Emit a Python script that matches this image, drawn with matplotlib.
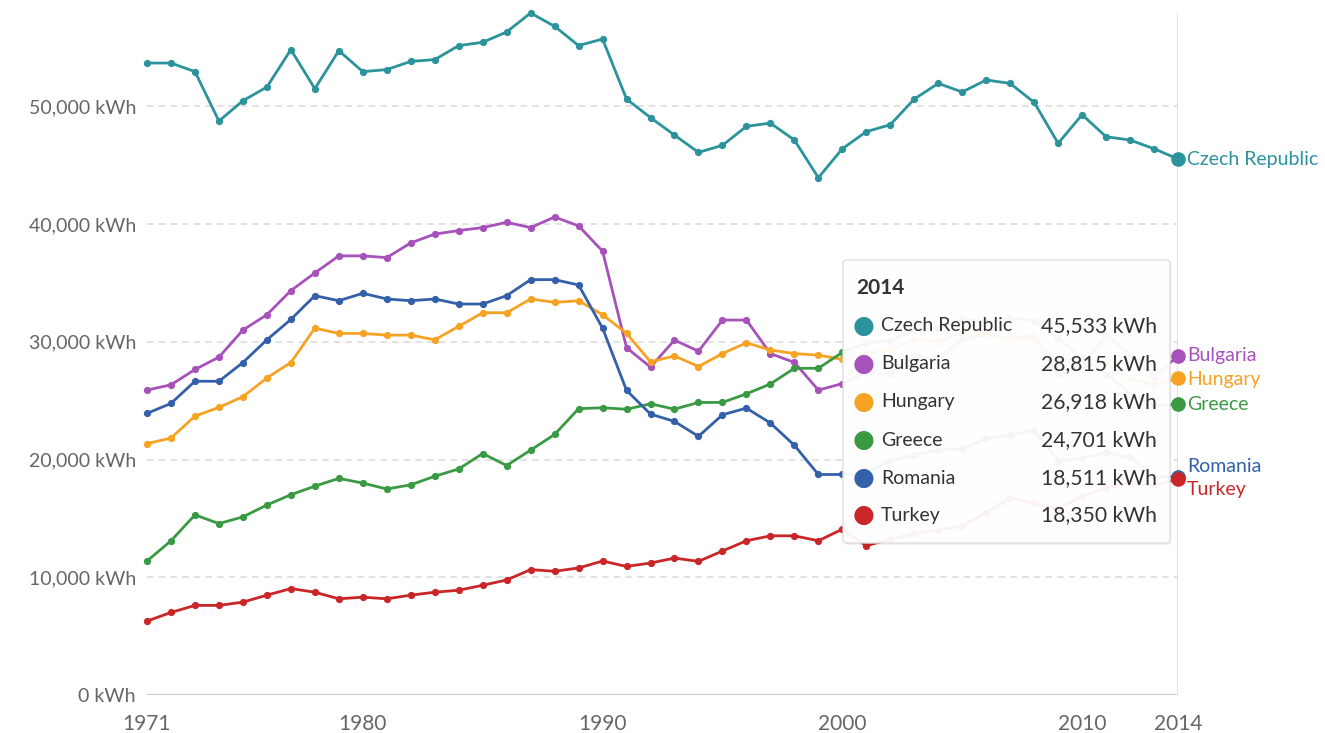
import matplotlib
matplotlib.use("Agg")
import matplotlib.pyplot as plt
from matplotlib.patches import FancyBboxPatch
from matplotlib.ticker import FuncFormatter

plt.rcParams['font.family'] = ['Lato', 'DejaVu Sans']

years = list(range(1971, 2015))

czech = [53680, 53680, 52950, 48750, 50480, 51640, 54820, 51500, 54730, 52950,
         53120, 53820, 53970, 55160, 55440, 56320, 57930, 56800, 55160, 55720,
         50620, 49040, 47560, 46090, 46690, 48300, 48580, 47140, 43940, 46400,
         47850, 48440, 50620, 51950, 51220, 52240, 51950, 50340, 46860, 49290,
         47420, 47140, 46400, 45533]
bulgaria = [25900, 26350, 27650, 28700, 31000, 32300, 34350, 35850, 37300, 37300,
            37150, 38400, 39150, 39450, 39700, 40150, 39700, 40600, 39850, 37700,
            29500, 27850, 30150, 29200, 31850, 31850, 29000, 28250, 25900, 26450,
            27400, 27300, 28800, 28500, 30200, 30600, 30300, 30500, 27300, 28000,
            30500, 29000, 27000, 28815]
hungary = [21360, 21820, 23690, 24430, 25340, 26930, 28240, 31160, 30710, 30710,
           30570, 30570, 30170, 31310, 32470, 32470, 33640, 33350, 33490, 32300,
           30720, 28300, 28800, 27900, 29000, 29920, 29300, 29000, 28870, 28510,
           29000, 29300, 30200, 30000, 30800, 30600, 30200, 30300, 28300, 28700,
           28100, 26900, 26300, 26918]
greece = [11380, 13100, 15300, 14560, 15130, 16140, 17010, 17740, 18400, 18000,
          17500, 17850, 18580, 19200, 20510, 19490, 20800, 22130, 24320, 24400,
          24270, 24730, 24280, 24850, 24850, 25580, 26420, 27750, 27750, 29100,
          29900, 30100, 31000, 31200, 31900, 31700, 32000, 31800, 30300, 28600,
          27300, 25600, 24600, 24701]
romania = [23920, 24770, 26650, 26650, 28240, 30170, 31900, 33920, 33490, 34120,
           33640, 33490, 33640, 33210, 33210, 33920, 35280, 35280, 34830, 31160,
           25880, 23860, 23240, 21970, 23800, 24370, 23100, 21210, 18730, 18730,
           18900, 19900, 20400, 20800, 20900, 21800, 22100, 22500, 19900, 20100,
           20600, 20200, 18600, 18511]
turkey = [6280, 7010, 7610, 7610, 7890, 8480, 9040, 8730, 8170, 8310,
          8170, 8480, 8730, 8900, 9320, 9770, 10650, 10510, 10790, 11380,
          10920, 11210, 11630, 11350, 12230, 13100, 13520, 13520, 13100, 14080,
          12680, 13240, 13720, 14000, 14370, 15500, 16760, 16280, 15800, 16900,
          17600, 18000, 17800, 18350]

names = ["Czech Republic", "Bulgaria", "Hungary", "Greece", "Romania", "Turkey"]
series = [czech, bulgaria, hungary, greece, romania, turkey]
colors = ["#2a939b", "#a652ba", "#f6a324", "#3a9a43", "#3360a9", "#ca2628"]
x_ticks = [1971, 1980, 1990, 2000, 2010, 2014]
y_ticks = [0, 10000, 20000, 30000, 40000, 50000]
tooltip_year = 2014

W, H = 1325, 733
fig = plt.figure(figsize=(W / 100, H / 100), dpi=100)
ax = fig.add_axes([147 / W, 1 - 695 / H, (1178 - 147) / W, (695 - 13) / H])
ax.set_xlim(1971, 2014)
ax.set_ylim(0, 57930)

for s in ax.spines.values():
    s.set_visible(False)
ax.axhline(0, color="#cccccc", lw=1.5, zorder=1)
for v in y_ticks[1:]:
    ax.axhline(v, color="#dddddd", lw=1.2, ls=(0, (4, 3)), zorder=1)
ax.axvline(tooltip_year, color="#e3e3e3", lw=1.5, zorder=1)

for vals, c in zip(series, colors):
    ax.plot(years, vals, color=c, lw=2, marker="o", ms=4.2, zorder=3, clip_on=False)
    ax.plot([years[-1]], [vals[-1]], "o", color=c, ms=9.5, zorder=4, clip_on=False)

ax.set_xticks(x_ticks)
ax.set_xticklabels([str(t) for t in x_ticks])
ax.set_yticks(y_ticks)
ax.yaxis.set_major_formatter(FuncFormatter(lambda v, p: f"{int(v):,} kWh"))
ax.tick_params(axis="both", length=0, labelsize=14, colors="#666666")
ax.tick_params(axis="x", labelsize=15, pad=14)
ax.tick_params(axis="y", pad=8)
for lab in ax.get_xticklabels() + ax.get_yticklabels():
    lab.set_color("#666666")

# end labels
label_y = {"Czech Republic": 159, "Bulgaria": 356, "Hungary": 379,
           "Greece": 404, "Romania": 466, "Turkey": 490}
for n, c in zip(names, colors):
    fig.text(1187 / W, 1 - label_y[n] / H, n, color=c, fontsize=14,
             ha="left", va="center")

# tooltip
bx0, bx1, by0, by1 = 843, 1170, 260, 543
shadow = FancyBboxPatch((bx0 / W + 0.001, 1 - by1 / H - 0.003), (bx1 - bx0) / W, (by1 - by0) / H,
                        boxstyle="round,pad=0,rounding_size=0.004", transform=fig.transFigure,
                        facecolor="#000000", edgecolor="none", alpha=0.06, zorder=9)
fig.patches.append(shadow)
box = FancyBboxPatch((bx0 / W, 1 - by1 / H), (bx1 - bx0) / W, (by1 - by0) / H,
                     boxstyle="round,pad=0,rounding_size=0.004", transform=fig.transFigure,
                     facecolor="white", edgecolor="#dddddd", lw=1, alpha=0.95, zorder=10)
fig.patches.append(box)
fig.text(856 / W, 1 - 288 / H, str(tooltip_year), fontsize=15, fontweight="bold",
         color="#333333", ha="left", va="center", zorder=11)
row_y = [326, 364, 402, 440, 478, 515]
for n, c, vals, ry in zip(names, colors, series, row_y):
    yy = 1 - ry / H
    fig.text(864 / W, yy, "\u25cf", color=c, fontsize=18, ha="center", va="center", zorder=11,
             family=["DejaVu Sans"])
    fig.text(881 / W, yy, n, color="#333333", fontsize=14, ha="left", va="center", zorder=11)
    fig.text(1157 / W, yy, f"{vals[-1]:,} kWh", color="#333333", fontsize=15.2,
             ha="right", va="center", zorder=11)

fig.savefig("out.png", dpi=100, facecolor="white")
